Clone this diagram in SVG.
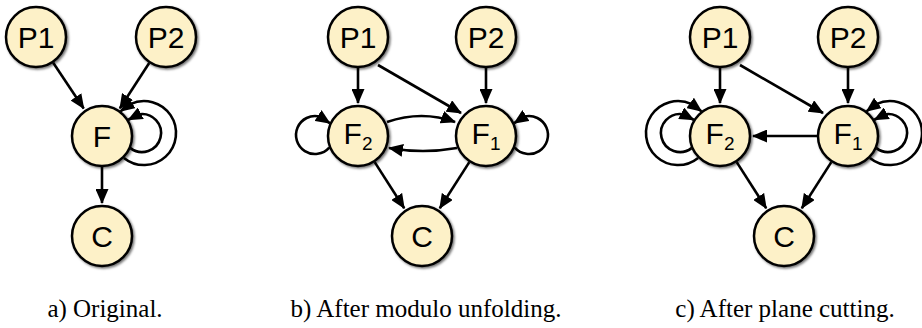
<svg xmlns="http://www.w3.org/2000/svg" width="922" height="328" viewBox="0 0 922 328">
<style>
.n circle{fill:#fdf1c8;stroke:#000;stroke-width:2.5;filter:url(#sh)}
.n text{font-family:"Liberation Sans",Arial,sans-serif;font-size:30px;text-anchor:middle;fill:#000}
.e path{fill:none;stroke:#000;stroke-width:2.6;marker-end:url(#ah)}
.cap{font-family:"Liberation Serif","Times New Roman",serif;font-size:25px;text-anchor:middle;fill:#000}
</style>
<defs>
<marker id="ah" markerUnits="userSpaceOnUse" markerWidth="15" markerHeight="13" viewBox="0 0 15 13" refX="14" refY="6.5" orient="auto"><path d="M0,0 L15,6.5 L0,13 z" fill="#000"/></marker>
<filter id="sh" x="-20%" y="-20%" width="150%" height="150%"><feDropShadow dx="1.5" dy="1.5" stdDeviation="1" flood-color="#000" flood-opacity="0.55"/></filter>
</defs>
<g id="connectors" class="e">
<!-- panel a -->
<path d="M53.2,62.8 L83.7,108.5"/>
<path d="M149.2,63 L119.9,108.3"/>
<path d="M102,167 L102,203"/>
<path d="M123.9,157.9 A32,32 0 1 0 130.3,104.1 L120.6,111.2"/>
<path d="M130.5,148.1 A19,19 0 1 0 139,114.25 L128.4,119.75"/>
<!-- panel b -->
<path d="M358,68 L358,103"/>
<path d="M486,68 L486,103"/>
<path d="M378,65 L461,113"/>
<path d="M387,122 Q422,110 455,122"/>
<path d="M457,148 Q423,154 389,148"/>
<path d="M374.7,162.1 L404.2,208.2"/>
<path d="M469.3,162.1 L439.8,208.2"/>
<path d="M329.25,147.6 A19,19 0 1 1 319.7,116.6 L329.8,123.1"/>
<path d="M514.75,147.6 A19,19 0 1 0 524.3,116.6 L514.2,123.1"/>
<!-- panel c -->
<path d="M720,68 L720,103"/>
<path d="M848,68 L848,103"/>
<path d="M740,65 L823,113"/>
<path d="M817,136 L753,136"/>
<path d="M736.7,162.1 L766.2,208.2"/>
<path d="M831.3,162.1 L801.8,208.2"/>
<path d="M698.1,157.9 A32,32 0 1 1 691.7,104.1 L701.4,111.2"/>
<path d="M691.5,148.1 A19,19 0 1 1 683,114.25 L693.6,119.75"/>
<path d="M869.9,157.9 A32,32 0 1 0 876.3,104.1 L866.6,111.2"/>
<path d="M876.5,148.1 A19,19 0 1 0 885,114.25 L874.4,119.75"/>
</g>
<g id="a-P1" class="n"><circle cx="36" cy="37" r="30"/><text x="36" y="48">P1</text></g>
<g id="a-P2" class="n"><circle cx="166" cy="37" r="30"/><text x="166" y="48">P2</text></g>
<g id="a-F" class="n"><circle cx="102" cy="136" r="30"/><text x="102" y="147">F</text></g>
<g id="a-C" class="n"><circle cx="102" cy="236" r="30"/><text x="102" y="247">C</text></g>
<g id="b-P1" class="n"><circle cx="358" cy="37" r="30"/><text x="358" y="48">P1</text></g>
<g id="b-P2" class="n"><circle cx="486" cy="37" r="30"/><text x="486" y="48">P2</text></g>
<g id="b-F2" class="n"><circle cx="358" cy="136" r="30"/><text x="358" y="144">F<tspan font-size="19" dy="6">2</tspan></text></g>
<g id="b-F1" class="n"><circle cx="486" cy="136" r="30"/><text x="486" y="144">F<tspan font-size="19" dy="6">1</tspan></text></g>
<g id="b-C" class="n"><circle cx="422" cy="236" r="30"/><text x="422" y="247">C</text></g>
<g id="c-P1" class="n"><circle cx="720" cy="37" r="30"/><text x="720" y="48">P1</text></g>
<g id="c-P2" class="n"><circle cx="848" cy="37" r="30"/><text x="848" y="48">P2</text></g>
<g id="c-F2" class="n"><circle cx="720" cy="136" r="30"/><text x="720" y="144">F<tspan font-size="19" dy="6">2</tspan></text></g>
<g id="c-F1" class="n"><circle cx="848" cy="136" r="30"/><text x="848" y="144">F<tspan font-size="19" dy="6">1</tspan></text></g>
<g id="c-C" class="n"><circle cx="784" cy="236" r="30"/><text x="784" y="247">C</text></g>
<g id="captions">
<text class="cap" x="105" y="317">a) Original.</text>
<text class="cap" x="426" y="317">b) After modulo unfolding.</text>
<text class="cap" x="785" y="317">c) After plane cutting.</text>
</g>
</svg>
